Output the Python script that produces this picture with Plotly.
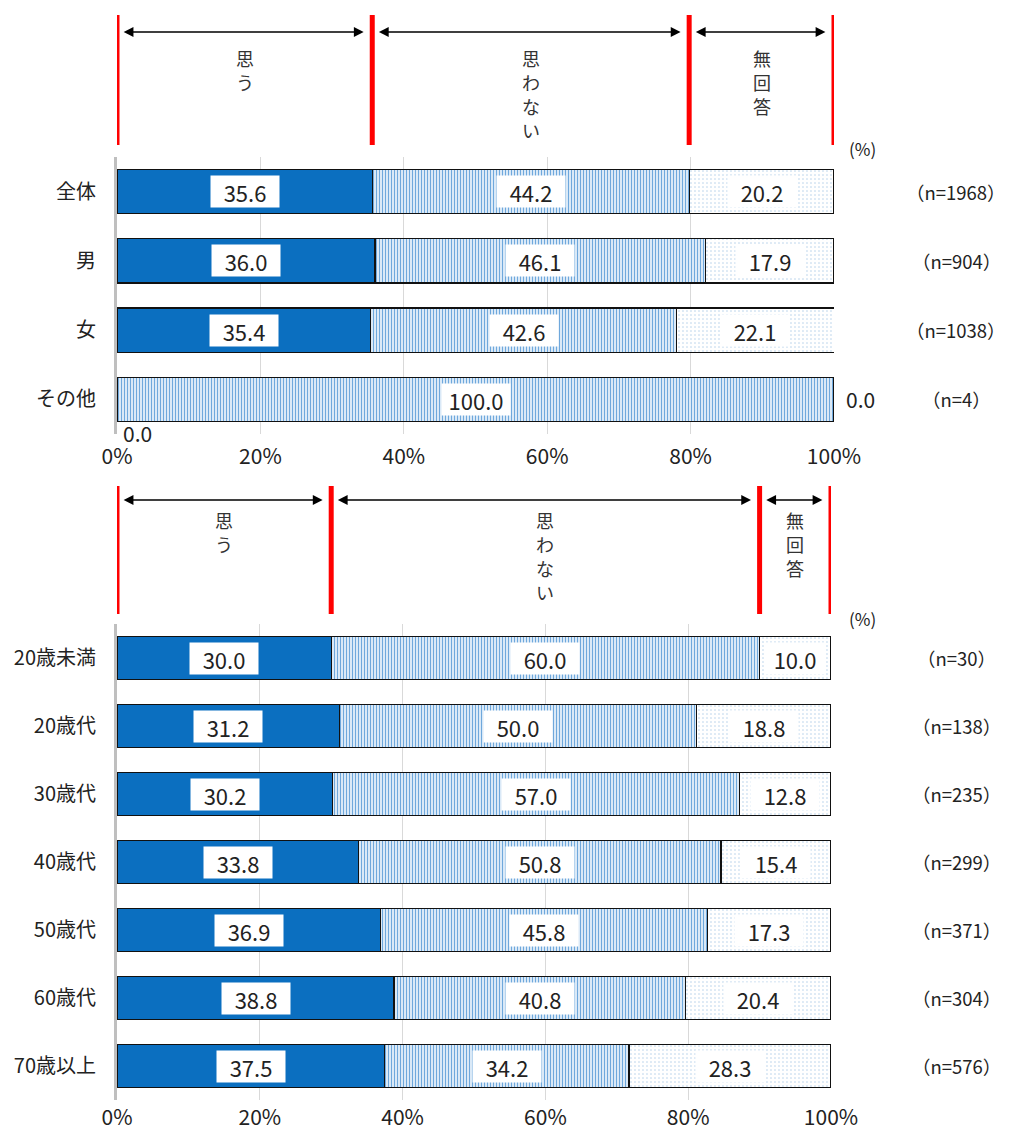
import plotly.graph_objects as go

# page is rendered with an 8px body margin; figure is placed accordingly
OFF = 8
W, H = 1016 - 2 * OFF, 1133 - OFF

# ---------------- data ----------------
series_names = ["思う", "思わない", "無回答"]

top_categories = ["全体", "男", "女", "その他"]
top_agree = [35.6, 36.0, 35.4, 0.0]
top_disagree = [44.2, 46.1, 42.6, 100.0]
top_noanswer = [20.2, 17.9, 22.1, 0.0]
top_n = [1968, 904, 1038, 4]

age_categories = ["20歳未満", "20歳代", "30歳代", "40歳代", "50歳代", "60歳代", "70歳以上"]
age_agree = [30.0, 31.2, 30.2, 33.8, 36.9, 38.8, 37.5]
age_disagree = [60.0, 50.0, 57.0, 50.8, 45.8, 40.8, 34.2]
age_noanswer = [10.0, 18.8, 12.8, 15.4, 17.3, 20.4, 28.3]
age_n = [30, 138, 235, 299, 371, 304, 576]

x_ticks = [0, 20, 40, 60, 80, 100]
x_tick_labels = ["0%", "20%", "40%", "60%", "80%", "100%"]

FONT = "Noto Sans CJK JP"
TXT = "#222222"


def py(p):
    return 1 - (p - OFF) / H


def px(p):
    return (p - OFF) / W


fig = go.Figure()

marker_styles = [
    dict(color="#0B6FC0", line=dict(color="#111111", width=1.3)),
    dict(color="#6FA8DC", line=dict(color="#111111", width=1.3),
         pattern=dict(shape="|", fgcolor="#6FA8DC", bgcolor="#E6F1FA",
                      size=3, solidity=0.4, fillmode="replace")),
    dict(color="#B4D2EE", line=dict(color="#111111", width=1.3),
         pattern=dict(shape=".", fgcolor="#B4D0EA", bgcolor="white",
                      size=4, solidity=0.12, fillmode="replace")),
]

annotations = []
shapes = []


def panel(cats, agree, disagree, noans, ns, xa, ya, xdom, ydom, hdr, standoff):
    xref = "x" if xa == "xaxis" else "x" + xa[5:]
    yref = "y" if ya == "yaxis" else "y" + ya[5:]
    vals = [agree, disagree, noans]
    for i, name in enumerate(series_names):
        fig.add_trace(go.Bar(
            y=cats, x=vals[i], orientation="h", name=name,
            marker=marker_styles[i], width=0.64,
            xaxis=xref, yaxis=yref, showlegend=False, hoverinfo="x+y+name",
        ))
    fig.layout[xa] = dict(
        domain=[px(xdom[0]), px(xdom[1])], range=[0, 100], anchor=yref,
        tickvals=x_ticks, ticktext=x_tick_labels, showgrid=True,
        gridcolor="#d9d9d9", gridwidth=1, zeroline=False, showline=False,
        tickfont=dict(family=FONT, size=21, color=TXT), ticklabelstandoff=standoff,
        fixedrange=True, automargin=False,
    )
    fig.layout[ya] = dict(
        domain=[py(ydom[1]), py(ydom[0])], anchor=xref,
        categoryorder="array", categoryarray=cats, autorange="reversed",
        showline=True, linecolor="#bfbfbf", linewidth=3, showgrid=False,
        tickfont=dict(family=FONT, size=20, color=TXT), ticklabelstandoff=14,
        fixedrange=True, automargin=False,
    )
    # data labels
    for r, c in enumerate(cats):
        start = 0.0
        for i in range(3):
            v = vals[i][r]
            mid = start + v / 2
            txt = f"{v:.1f}"
            if v == 0:
                if i == 0:
                    annotations.append(dict(
                        x=start, y=c, xref=xref, yref=yref, text=txt, showarrow=False,
                        xanchor="left", xshift=4, yshift=-34,
                        font=dict(family=FONT, size=21, color=TXT)))
                else:
                    annotations.append(dict(
                        x=start, y=c, xref=xref, yref=yref, text=txt, showarrow=False,
                        xanchor="left", xshift=10,
                        font=dict(family=FONT, size=21, color=TXT)))
            else:
                annotations.append(dict(
                    x=mid, y=c, xref=xref, yref=yref, text=txt, showarrow=False,
                    bgcolor="white", width=66 if v >= 12 else 58, height=29,
                    borderpad=1,
                    font=dict(family=FONT, size=22, color=TXT)))
            start += v
        annotations.append(dict(
            x=px(956), y=c, xref="paper", yref=yref, text=f"（n={ns[r]}）",
            showarrow=False, xanchor="center",
            font=dict(family=FONT, size=18.5, color=TXT)))
    # header with red separators, double arrows and vertical labels
    bounds = [0.0]
    for i in range(3):
        bounds.append(bounds[-1] + vals[i][0])
    bounds[-1] = 100.0
    line_top, line_bot, arrow_y, text_top = hdr
    for b in bounds:
        shapes.append(dict(type="line", xref=xref, yref="paper", x0=b, x1=b,
                           y0=py(line_bot), y1=py(line_top),
                           line=dict(color="#FF0000", width=5)))
    gap = 1.2
    for i in range(3):
        a, b = bounds[i], bounds[i + 1]
        annotations.append(dict(
            x=b - gap, y=py(arrow_y), xref=xref, yref="paper",
            ax=a + gap * 0.6, ay=0, axref=xref, ayref="pixel",
            text="", showarrow=True, arrowside="end+start", arrowhead=2,
            arrowsize=1.4, arrowwidth=1.4, arrowcolor="#000000", standoff=0,
            startstandoff=0))
        for k, ch in enumerate(series_names[i]):
            annotations.append(dict(
                x=(a + b) / 2, y=py(text_top + 24 * k), xref=xref, yref="paper",
                text=ch, showarrow=False, yanchor="middle", xanchor="center",
                font=dict(family=FONT, size=18, color="#333333")))
    annotations.append(dict(
        x=px(862), y=py(hdr[1] + 4), xref="paper", yref="paper", text="(%)",
        showarrow=False, xanchor="center", yanchor="middle",
        font=dict(family=FONT, size=17, color=TXT)))


panel(top_categories, top_agree, top_disagree, top_noanswer, top_n,
      "xaxis", "yaxis", (117, 834), (157, 434), (15, 145, 32, 58), 8)
panel(age_categories, age_agree, age_disagree, age_noanswer, age_n,
      "xaxis2", "yaxis2", (117, 831), (624, 1100), (486, 614, 500, 520), 3)

fig.update_layout(
    width=W, height=H, margin=dict(l=0, r=0, t=0, b=0, autoexpand=False),
    barmode="stack", bargap=0.36, plot_bgcolor="white", paper_bgcolor="white",
    annotations=annotations, shapes=shapes, showlegend=False,
    font=dict(family=FONT, color=TXT),
)

fig.write_html("out.html")
